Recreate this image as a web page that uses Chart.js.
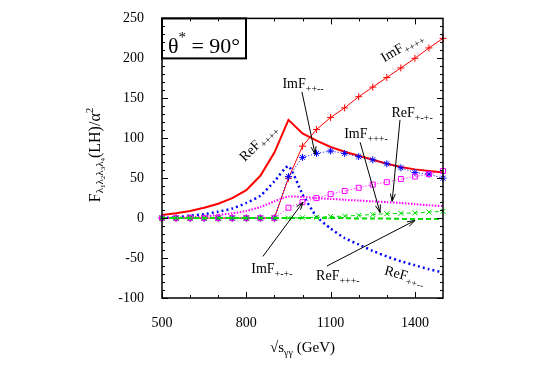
<!DOCTYPE html>
<html lang="en">
<head>
  <meta charset="UTF-8" />
  <title>F(LH) vs sqrt(s)</title>
  <script src="https://cdn.jsdelivr.net/npm/chart.js"></script>
  <style>
    body { margin: 0; background: #fff; }
    #wrap { width: 540px; height: 378px; }
  </style>
</head>
<body>
  <div id="wrap"><canvas id="chart" width="540" height="378"></canvas></div>

  <script>
    // sqrt(s_gg) in GeV
    const energy = [500, 550, 600, 650, 700, 750, 800, 850, 900, 950, 1000, 1050, 1100, 1150, 1200, 1250, 1300, 1350, 1400, 1450, 1500];

    // helicity amplitudes F/alpha^2
    const reFpppp = [4, 6, 9, 13, 18, 25, 35, 53, 82, 123, 106, 97, 89, 83, 78, 73, 68, 64, 61, 59, 57];
    const imFpppp = [0, 0, 0, 0, 0, 0, 0, 0, 0, 50, 90, 111, 126, 138, 152, 164, 176, 188, 200, 213, 225];
    const reFppmm = [0, 1, 3, 5, 8, 12, 19, 28, 46, 65, 30, 2, -13, -25, -33, -41, -48, -54, -59, -64, -68];
    const imFppmm = [0, 0, 0, 0, 0, 0, 0, 0, 0, 52, 76, 81, 84, 81, 77, 73, 68, 63, 57, 55, 50];
    const reFpmpm = [0, 0.5, 1, 2, 4, 6, 9, 14, 21, 27, 26.5, 25, 24, 23, 22, 21, 20, 19, 17.5, 16, 15];
    const imFpmpm = [0, 0, 0, 0, 0, 0, 0, 0, 0, 13, 20, 25, 30, 34, 38, 42, 45, 49, 52, 55, 59];
    const reFpppm = [0, 0, 0, 0, 0, 0, 0, 0, 0, 0, 0, 0, 0, 0, -0.5, -0.5, -0.5, -1, -1, -1, -1];
    const imFpppm = [0, 0, 0, 0, 0, 0, 0, 0, 0, 0, 0.5, 1, 2, 2.5, 3.5, 4.5, 5.5, 6, 6.5, 7.5, 8.5];

    const xTicks = [500, 800, 1100, 1400];
    const yTicks = [-100, -50, 0, 50, 100, 150, 200, 250];

    const SERIF = '"Liberation Serif", "DejaVu Serif", serif';
    const RED = "#ff0000", BLUE = "#0000ff", PINK = "#ff00ff", GREEN = "#00dd00";

    const pts = arr => energy.map((e, i) => ({ x: e, y: arr[i] }));

    function series(arr, color, width, dash, marker, tension) {
      return {
        data: pts(arr),
        borderColor: color,
        backgroundColor: "transparent",
        borderWidth: width,
        borderDash: dash,
        pointStyle: marker || "circle",
        pointRadius: marker ? 3.5 : 0,
        pointBorderColor: color,
        pointBorderWidth: 1,
        pointBackgroundColor: "transparent",
        tension: tension || 0,
        clip: false
      };
    }

    // draw a run of text pieces (for sub/superscripts), centred on x,y
    function drawRuns(ctx, runs, x, y, angle, base) {
      ctx.save();
      ctx.translate(x, y);
      ctx.rotate((angle || 0) * Math.PI / 180);
      ctx.fillStyle = "#000";
      ctx.textAlign = "left";
      ctx.textBaseline = "alphabetic";
      let w = 0;
      runs.forEach(r => {
        ctx.font = r.s + "px " + SERIF;
        r.w = ctx.measureText(r.t).width;
        w += r.w;
      });
      let cx = -w / 2;
      runs.forEach(r => {
        ctx.font = r.s + "px " + SERIF;
        ctx.fillText(r.t, cx, (base == null ? 5 : base) + (r.dy || 0));
        cx += r.w;
      });
      ctx.restore();
    }

    const lab = (head, sub) => [{ t: head, s: 14 }, { t: sub, s: 10, dy: 4 }];

    function arrow(ctx, x1, y1, x2, y2, head) {
      ctx.beginPath();
      ctx.moveTo(x1, y1);
      ctx.lineTo(x2, y2);
      if (head) {
        const a = Math.atan2(y2 - y1, x2 - x1);
        const L = 8, s = 0.32;
        ctx.moveTo(x2 - L * Math.cos(a - s), y2 - L * Math.sin(a - s));
        ctx.lineTo(x2, y2);
        ctx.lineTo(x2 - L * Math.cos(a + s), y2 - L * Math.sin(a + s));
      }
      ctx.stroke();
    }

    const framePlugin = {
      id: "frame",
      beforeDraw(chart) {
        const ctx = chart.ctx;
        ctx.save();
        ctx.fillStyle = "#fff";
        ctx.fillRect(0, 0, chart.width, chart.height);
        ctx.restore();
      },
      afterDraw(chart) {
        const ctx = chart.ctx;
        const { left, right, top, bottom } = chart.chartArea;
        const xs = chart.scales.x, ys = chart.scales.y;
        ctx.save();
        ctx.strokeStyle = "#000";
        ctx.lineWidth = 1.5;
        ctx.strokeRect(left, top, right - left, bottom - top);

        // inward ticks on all four sides
        ctx.lineWidth = 1;
        ctx.beginPath();
        for (let v = 500; v < 1500; v += 100) {
          const p = Math.round(xs.getPixelForValue(v)) + 0.5;
          const len = (v - 500) % 300 === 0 ? 6 : 3;
          ctx.moveTo(p, bottom); ctx.lineTo(p, bottom - len);
          ctx.moveTo(p, top); ctx.lineTo(p, top + len);
        }
        for (let v = -100; v < 250; v += 10) {
          const p = Math.round(ys.getPixelForValue(v)) + 0.5;
          const len = v % 50 === 0 ? 6 : 3;
          ctx.moveTo(left, p); ctx.lineTo(left + len, p);
          ctx.moveTo(right, p); ctx.lineTo(right - len, p);
        }
        ctx.stroke();

        // theta box
        ctx.lineWidth = 2;
        ctx.strokeRect(left, top, 84, 40);
        drawRuns(ctx, [{ t: "\u03b8", s: 22 }, { t: "*", s: 15, dy: -11 }, { t: " = 90\u00b0", s: 22 }], left + 42, top + 28, 0, 7);

        // axis titles
        drawRuns(ctx, [
          { t: "F", s: 16 },
          { t: "\u03bb", s: 11, dy: 3 }, { t: "1", s: 7, dy: 5 },
          { t: "\u03bb", s: 11, dy: 3 }, { t: "2", s: 7, dy: 5 },
          { t: "\u03bb", s: 11, dy: 3 }, { t: "3", s: 7, dy: 5 },
          { t: "\u03bb", s: 11, dy: 3 }, { t: "4", s: 7, dy: 5 },
          { t: "(LH)/\u03b1", s: 16 }, { t: "2", s: 11, dy: -7 }
        ], 95, 155, -90);
        drawRuns(ctx, [{ t: "\u221as", s: 15 }, { t: "\u03b3\u03b3", s: 10, dy: 4 }, { t: " (GeV)", s: 15 }],
          (left + right) / 2, 347, 0);

        // annotations, placed in data units
        const X = v => xs.getPixelForValue(v), Y = v => ys.getPixelForValue(v);
        ctx.strokeStyle = "#000";
        ctx.lineWidth = 1;
        drawRuns(ctx, lab("ImF", "++++"), X(1352), Y(215), -31);
        drawRuns(ctx, lab("ReF", "++++"), X(840), Y(95), -45);
        drawRuns(ctx, lab("ReF", "++--"), X(1365), Y(-71), 15);

        drawRuns(ctx, lab("ImF", "++--"), X(1002), Y(169), 0);
        arrow(ctx, X(998), Y(158), X(1045), Y(80), true);

        drawRuns(ctx, lab("ReF", "+-+-"), X(1390), Y(133), 0);
        arrow(ctx, X(1347), Y(123), X(1319), Y(21), true);

        drawRuns(ctx, lab("ImF", "+++-"), X(1226), Y(107), 0);
        arrow(ctx, X(1205), Y(95), X(1276), Y(7), true);

        drawRuns(ctx, lab("ImF", "+-+-"), X(891), Y(-63), 0);
        arrow(ctx, X(859), Y(-48), X(1002), Y(20), true);

        drawRuns(ctx, lab("ReF", "+++-"), X(1126), Y(-71), 0);
        arrow(ctx, X(1087), Y(-60), X(1400), Y(-3), true);
        ctx.restore();
      }
    };

    new Chart(document.getElementById("chart"), {
      type: "line",
      data: {
        datasets: [
          series(reFpppm, GREEN, 2, [5, 3]),
          series(imFpppm, GREEN, 1, [4, 3], "crossRot"),
          series(reFpmpm, PINK, 2, [1.5, 1.5], null, 0.2),
          series(imFpmpm, PINK, 1, [1, 2], "rect"),
          series(reFppmm, BLUE, 2.5, [2, 3], null, 0.2),
          series(imFppmm, BLUE, 1, [1, 2], "star"),
          series(imFpppp, RED, 1, [], "cross"),
          series(reFpppp, RED, 2, [])
        ]
      },
      options: {
        responsive: false,
        animation: false,
        layout: { padding: { left: 0, right: 97, top: 17, bottom: 0 } },
        plugins: { legend: { display: false }, tooltip: { enabled: false } },
        scales: {
          x: {
            type: "linear",
            min: 500,
            max: 1500,
            afterFit: s => { s.height = 80; },
            afterBuildTicks: s => { s.ticks = xTicks.map(v => ({ value: v })); },
            grid: { display: false },
            border: { display: false },
            ticks: { color: "#000", padding: 9, maxRotation: 0, autoSkip: false, callback: v => String(v), font: { family: SERIF, size: 14 } }
          },
          y: {
            min: -100,
            max: 250,
            afterFit: s => { s.width = 162; },
            afterBuildTicks: s => { s.ticks = yTicks.map(v => ({ value: v })); },
            grid: { display: false },
            border: { display: false },
            ticks: { color: "#000", padding: 10, callback: v => String(v), font: { family: SERIF, size: 14 } }
          }
        }
      },
      plugins: [framePlugin]
    });
  </script>
</body>
</html>
